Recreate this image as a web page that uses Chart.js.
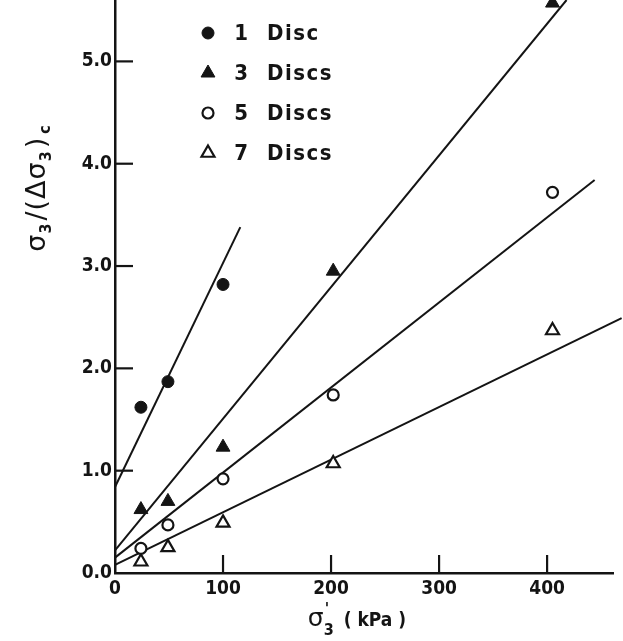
<!DOCTYPE html>
<html>
<head>
<meta charset="utf-8">
<script src="https://cdn.jsdelivr.net/npm/chart.js@4.4.1/dist/chart.umd.min.js"></script>
<style>
   html, body { margin: 0; padding: 0; background: #fff; }
   #wrap { width: 623px; height: 641px; }
</style>
</head>
<body>
<div id="wrap"><canvas id="chart"></canvas></div>
<script>
// values (sigma3 in kPa)
const pressure = [24, 49, 100, 202, 405]
const disc1 = [1.62, 1.87, 2.82]
const disc3 = [0.62, 0.70, 1.23, 2.95, 5.57]
const disc5 = [0.24, 0.47, 0.92, 1.74, 3.72]
const disc7 = [0.11, 0.25, 0.49, 1.07, 2.37]

// fitted lines: start / end of each drawn line
const fit1X = [0, 116], fit1Y = [0.84, 3.38]
const fit3X = [0, 418], fit3Y = [0.22, 5.6]
const fit5X = [0, 444], fit5Y = [0.15, 3.84]
const fit7X = [0, 469], fit7Y = [0.08, 2.49]

const xTicks = [0, 100, 200, 300, 400]
const xTickLabels = ["0", "100", "200", "300", "400"]
const yTicks = [0, 1, 2, 3, 4, 5]
const yTickLabels = ["0.0", "1.0", "2.0", "3.0", "4.0", "5.0"]

const legendCounts = ["1", "3", "5", "7"]
const legendNames = ["Disc", "Discs", "Discs", "Discs"]

const INK = "#141414"
const FONT = "'DejaVu Sans Condensed', 'Liberation Sans Narrow', 'DejaVu Sans', sans-serif"

const pts = (xs, ys) => ys.map((y, i) => ({ x: xs[i], y: y }))

const markers = [
   { pointStyle: "circle", pointRadius: 6, backgroundColor: INK, borderWidth: 1 },
   { pointStyle: "triangle", pointRadius: 8, backgroundColor: INK, borderWidth: 1 },
   { pointStyle: "circle", pointRadius: 5.5, backgroundColor: "#fff", borderWidth: 2.2 },
   { pointStyle: "triangle", pointRadius: 7.5, backgroundColor: "#fff", borderWidth: 2.2 }
]
const series = [disc1, disc3, disc5, disc7]

function pointSet(i) {
   const m = markers[i]
   return {
      type: "scatter",
      label: legendCounts[i] + " " + legendNames[i],
      data: pts(pressure, series[i]),
      pointStyle: m.pointStyle,
      pointRadius: m.pointRadius,
      pointHoverRadius: m.pointRadius,
      backgroundColor: m.backgroundColor,
      borderColor: INK,
      borderWidth: m.borderWidth,
      clip: false
   }
}

function lineSet(xs, ys) {
   return {
      type: "line",
      data: pts(xs, ys),
      borderColor: INK,
      borderWidth: 2,
      pointRadius: 0,
      fill: false,
      clip: false
   }
}

// ticks drawn inward from the axes
const innerTicks = {
   id: "innerTicks",
   afterDatasetsDraw(chart) {
      const { ctx, chartArea, scales } = chart
      ctx.save()
      ctx.strokeStyle = INK
      ctx.lineWidth = 2.2
      xTicks.forEach(v => {
         if (v === 0) return
         const px = scales.x.getPixelForValue(v)
         ctx.beginPath()
         ctx.moveTo(px, chartArea.bottom)
         ctx.lineTo(px, chartArea.bottom - 18)
         ctx.stroke()
      })
      yTicks.forEach(v => {
         if (v === 0) return
         const py = scales.y.getPixelForValue(v)
         ctx.beginPath()
         ctx.moveTo(chartArea.left, py)
         ctx.lineTo(chartArea.left + 18, py)
         ctx.stroke()
      })
      ctx.restore()
   }
}

const legendBox = {
   id: "legendBox",
   afterDraw(chart) {
      const ctx = chart.ctx
      ctx.save()
      ctx.fillStyle = INK
      ctx.strokeStyle = INK
      ctx.textBaseline = "middle"
      ctx.font = "bold 22px " + FONT
      ctx.letterSpacing = "1.5px"
      legendCounts.forEach((n, i) => {
         const y = 33 + i * 40
         const m = markers[i]
         ctx.fillStyle = m.backgroundColor
         ctx.lineWidth = m.borderWidth
         Chart.helpers.drawPoint(ctx, {
            pointStyle: m.pointStyle,
            radius: m.pointRadius,
            borderWidth: m.borderWidth,
            rotation: 0
         }, 208, y)
         ctx.fillStyle = INK
         ctx.textAlign = "center"
         ctx.fillText(n, 242, y + 1)
         ctx.textAlign = "left"
         ctx.fillText(legendNames[i], 267, y + 1)
      })
      ctx.restore()
   }
}

// draws a run of text pieces, some as subscripts, centred on 0
function drawPieces(ctx, pieces) {
   let total = 0
   pieces.forEach(p => {
      ctx.font = p.font
      p.w = ctx.measureText(p.t).width + (p.gap || 0)
      total += p.w
   })
   let x = -total / 2
   pieces.forEach(p => {
      ctx.font = p.font
      ctx.fillText(p.t, x, p.dy || 0)
      x += p.w
   })
   return -total / 2
}

const axisTitles = {
   id: "axisTitles",
   afterDraw(chart) {
      const ctx = chart.ctx
      const big = "27px 'DejaVu Sans', sans-serif"
      const bigX = "25px 'DejaVu Sans', sans-serif"
      const mid = "bold 19px " + FONT
      const sub = "bold 16px " + FONT
      ctx.save()
      ctx.fillStyle = INK
      ctx.textBaseline = "alphabetic"
      ctx.textAlign = "left"

      // y title
      ctx.save()
      ctx.translate(45, 188)
      ctx.rotate(-Math.PI / 2)
      ctx.letterSpacing = "1px"
      drawPieces(ctx, [
         { t: "σ", font: big },
         { t: "3", font: sub, dy: 6, gap: 2 },
         { t: "/(Δ", font: big },
         { t: "σ", font: big },
         { t: "3", font: sub, dy: 6, gap: 2 },
         { t: ")", font: big, gap: 3 },
         { t: "c", font: sub, dy: 5 }
      ])
      ctx.restore()

      // x title
      ctx.save()
      ctx.translate(357, 626)
      const start = drawPieces(ctx, [
         { t: "σ", font: bigX },
         { t: "3", font: sub, dy: 9, gap: 10 },
         { t: "( kPa )", font: mid }
      ])
      ctx.font = sub
      ctx.fillText("'", start + 17, -12)
      ctx.restore()

      ctx.restore()
   }
}

new Chart(document.getElementById("chart"), {
   data: {
      datasets: [
         pointSet(0), pointSet(1), pointSet(2), pointSet(3),
         lineSet(fit1X, fit1Y), lineSet(fit3X, fit3Y),
         lineSet(fit5X, fit5Y), lineSet(fit7X, fit7Y)
      ]
   },
   options: {
      responsive: true,
      maintainAspectRatio: false,
      animation: false,
      events: [],
      layout: { autoPadding: false, padding: { left: 0, top: 0, right: 10, bottom: 0 } },
      plugins: {
         legend: { display: false },
         tooltip: { enabled: false }
      },
      scales: {
         x: {
            type: "linear",
            min: 0,
            max: 461,
            afterBuildTicks: s => { s.ticks = xTicks.map(v => ({ value: v })) },
            afterFit: s => { s.height = 68; s.paddingLeft = 0; s.paddingRight = 0 },
            grid: { display: false, drawTicks: false },
            border: { display: true, color: INK, width: 2.5 },
            ticks: {
               padding: 5,
               color: INK,
               font: { family: FONT, size: 19, weight: "bold" },
               callback: (v, i) => xTickLabels[i]
            }
         },
         y: {
            type: "linear",
            min: 0,
            max: 5.6,
            afterBuildTicks: s => { s.ticks = yTicks.map(v => ({ value: v })) },
            afterFit: s => { s.width = 115; s.paddingTop = 0; s.paddingBottom = 0 },
            grid: { display: false, drawTicks: false },
            border: { display: true, color: INK, width: 2.5 },
            ticks: {
               padding: 3,
               color: INK,
               font: { family: FONT, size: 19, weight: "bold" },
               callback: (v, i) => yTickLabels[i]
            }
         }
      }
   },
   plugins: [innerTicks, legendBox, axisTitles]
})
</script>
</body>
</html>
